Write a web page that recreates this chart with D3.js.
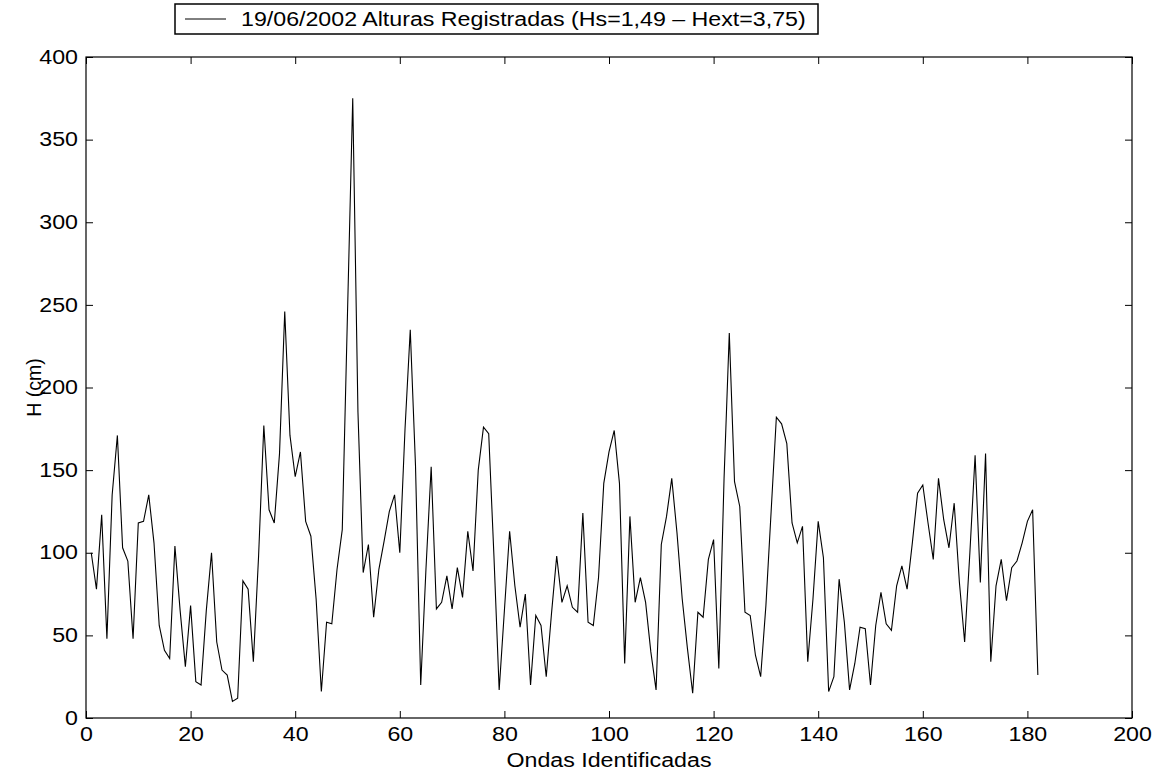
<!DOCTYPE html>
<html>
<head>
<meta charset="utf-8">
<script src="https://cdn.jsdelivr.net/npm/d3@7"></script>
<style>
  body { margin: 0; background: #fff; }
  text { font-family: "Liberation Sans", Arial, sans-serif; }
  /* the original glyphs are a bit wider than Arial, stretch them */
  .wide { transform-box: fill-box; transform: scaleX(1.19); }
  .wide-c { transform-origin: center; }
  .wide-r { transform-origin: right center; }
  .wide-l { transform-origin: left center; }
</style>
</head>
<body>
<div id="viz"></div>
<script>
// wave heights (cm) for each identified wave, 1..182
const heights = [
  100, 78, 123, 48, 135, 171, 103, 95, 48, 118,
  119, 135, 106, 56, 41, 36, 104, 65, 31, 68,
  22, 20, 65, 100, 46, 29, 26, 10, 12, 83,
  78, 34, 98, 177, 126, 118, 160, 246, 171, 146,
  161, 119, 110, 72, 16, 58, 57, 90, 114, 245,
  375, 185, 88, 105, 61, 90, 107, 125, 135, 100,
  175, 235, 153, 20, 90, 152, 66, 70, 86, 66,
  91, 73, 113, 89, 150, 176, 172, 98, 17, 65,
  113, 80, 55, 75, 20, 62, 56, 25, 63, 98,
  70, 80, 67, 64, 124, 58, 56, 85, 142, 161,
  174, 142, 33, 122, 70, 85, 70, 40, 17, 105,
  122, 145, 112, 72, 42, 15, 64, 61, 96, 108,
  30, 145, 233, 143, 128, 64, 62, 38, 25, 68,
  125, 182, 178, 166, 118, 106, 116, 34, 72, 119,
  97, 16, 25, 84, 58, 17, 33, 55, 54, 20,
  56, 76, 57, 53, 80, 92, 78, 106, 136, 141,
  118, 96, 145, 120, 103, 130, 82, 46, 100, 159,
  82, 160, 34, 80, 96, 71, 91, 95, 106, 119,
  126, 26
];
const waveIndex = heights.map((h, i) => i + 1);

const xTicks = [0, 20, 40, 60, 80, 100, 120, 140, 160, 180, 200];
const yTicks = [0, 50, 100, 150, 200, 250, 300, 350, 400];
const legendLabel = "19/06/2002 Alturas Registradas (Hs=1,49 \u2013 Hext=3,75)";

const width = 1157, height = 771;
const margin = {left: 86, right: 25, top: 57, bottom: 53};
const fontSize = 19.5;

const svg = d3.select("#viz")
  .append("svg")
  .attr("width", width)
  .attr("height", height);

const x = d3.scaleLinear().domain([0, 200]).range([margin.left, width - margin.right]);
const y = d3.scaleLinear().domain([0, 400]).range([height - margin.bottom, margin.top]);

// axes, MATLAB style: inward ticks on all four sides
const tickLen = 7;
svg.append("g")
  .attr("transform", `translate(0,${y(0)})`)
  .call(d3.axisBottom(x).tickValues(xTicks).tickSizeInner(-tickLen).tickSizeOuter(0).tickPadding(9))
  .call(g => g.select(".domain").remove())
  .call(g => g.selectAll(".tick text").attr("class", "wide wide-c"));
svg.append("g")
  .attr("transform", `translate(0,${y(400)})`)
  .call(d3.axisTop(x).tickValues(xTicks).tickSizeInner(-tickLen).tickSizeOuter(0).tickFormat(""))
  .call(g => g.select(".domain").remove());
svg.append("g")
  .attr("transform", `translate(${x(0)},0)`)
  .call(d3.axisLeft(y).tickValues(yTicks).tickSizeInner(-tickLen).tickSizeOuter(0).tickPadding(8))
  .call(g => g.select(".domain").remove())
  .call(g => g.selectAll(".tick text").attr("class", "wide wide-r"));
svg.append("g")
  .attr("transform", `translate(${x(200)},0)`)
  .call(d3.axisRight(y).tickValues(yTicks).tickSizeInner(-tickLen).tickSizeOuter(0).tickFormat(""))
  .call(g => g.select(".domain").remove());

svg.selectAll(".tick text")
  .attr("font-size", fontSize)
  .attr("font-family", "Liberation Sans, Arial, sans-serif")
  .attr("fill", "#000");
svg.selectAll(".tick line").attr("stroke", "#000");

// plot frame
svg.append("rect")
  .attr("x", x(0)).attr("y", y(400))
  .attr("width", x(200) - x(0)).attr("height", y(0) - y(400))
  .attr("fill", "none").attr("stroke", "#000").attr("stroke-width", 1.2);

// the series
const line = d3.line()
  .x((d, i) => x(waveIndex[i]))
  .y(d => y(d));
svg.append("path")
  .datum(heights)
  .attr("d", line)
  .attr("fill", "none")
  .attr("stroke", "#000")
  .attr("stroke-width", 1.1);

// axis labels
svg.append("text")
  .attr("class", "wide wide-c")
  .attr("x", (x(0) + x(200)) / 2)
  .attr("y", 767)
  .attr("text-anchor", "middle")
  .attr("font-size", fontSize)
  .text("Ondas Identificadas");
svg.append("text")
  .attr("transform", `translate(41,${(y(0) + y(400)) / 2}) rotate(-90)`)
  .attr("text-anchor", "middle")
  .attr("font-size", fontSize)
  .text("H (cm)");

// legend
const lg = svg.append("g");
lg.append("rect")
  .attr("x", 175).attr("y", 4).attr("width", 643).attr("height", 30)
  .attr("fill", "#fff").attr("stroke", "#000").attr("stroke-width", 1.5);
lg.append("line")
  .attr("x1", 185).attr("x2", 226).attr("y1", 19).attr("y2", 19)
  .attr("stroke", "#000").attr("stroke-width", 1);
lg.append("text")
  .attr("class", "wide wide-l")
  .attr("x", 241).attr("y", 26)
  .attr("font-size", fontSize)
  .text(legendLabel);
</script>
</body>
</html>
